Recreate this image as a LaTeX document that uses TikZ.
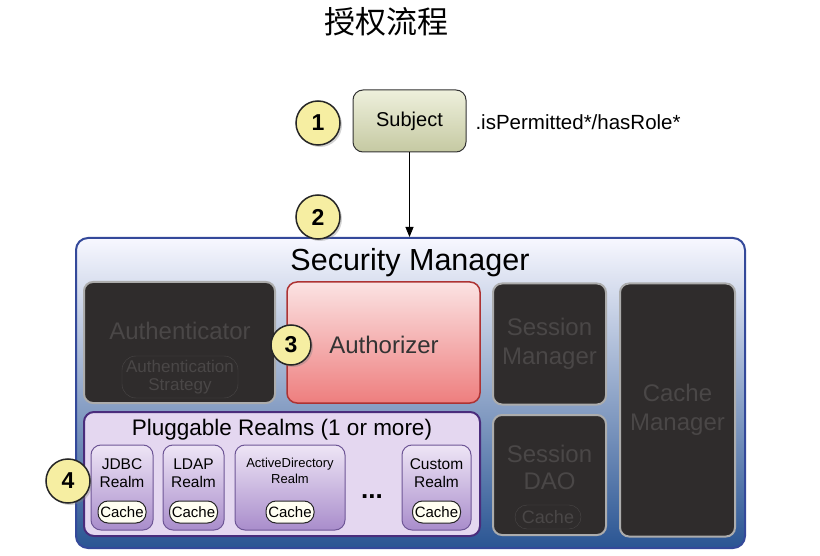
\documentclass[tikz,border=0pt]{standalone}
\usepackage{fontspec}
\setmainfont{Liberation Sans}
\newfontfamily\cjkfont{Noto Sans CJK SC}
\usepackage{xcolor}
\usetikzlibrary{shadows,arrows.meta}
\definecolor{stepfill}{HTML}{F6EEA2}
\definecolor{darkfill}{HTML}{2F2C2C}
\definecolor{darktext}{HTML}{4A4747}
\definecolor{smborder}{HTML}{34499A}
\definecolor{smbottom}{HTML}{2A5593}
\definecolor{realmborder}{HTML}{4A2C7C}
\definecolor{realmsfill}{HTML}{E4D7F0}
\definecolor{realmtop}{HTML}{EEE5F6}
\definecolor{realmbot}{HTML}{A98DCB}
\definecolor{subjtop}{HTML}{EEF0DC}
\definecolor{subjbot}{HTML}{C5C9A2}
\definecolor{authztop}{HTML}{FBE3E3}
\definecolor{authzbot}{HTML}{EE7E7E}
\tikzset{
    step-circle/.style = {circle, draw=black!85, line width=1.5pt, fill=stepfill, minimum size=44pt, inner sep=0pt, font=\fontsize{23}{23}\selectfont\bfseries, drop shadow={shadow xshift=2pt, shadow yshift=-2pt, opacity=0.35}},
    subject-box/.style = {draw=black!80, line width=1pt, rounded corners=10pt, top color=subjtop, bottom color=subjbot, minimum width=113pt, minimum height=62pt, font=\fontsize{20}{22}\selectfont},
    sm-box/.style = {draw=smborder, line width=2pt, rounded corners=12pt, top color=blue!3!white, middle color=blue!20!gray!25!white, bottom color=smbottom},
    dark-box/.style = {draw=gray!65, line width=2pt, fill=darkfill, rounded corners=9pt, text=darktext, align=center, font=\fontsize{24}{29}\selectfont},
    dark-inner/.style = {draw=darktext, thin, rounded corners=14pt, text=darktext, align=center, inner sep=1pt, font=\fontsize{17}{18}\selectfont},
    authz-box/.style = {draw=red!60!black!80, line width=1.5pt, rounded corners=10pt, top color=authztop, bottom color=authzbot, minimum width=193pt, minimum height=121pt},
    realms-box/.style = {draw=realmborder, line width=2pt, rounded corners=10pt, fill=realmsfill, minimum width=396pt, minimum height=124pt},
    realm-box/.style = {draw=realmborder!80, line width=1pt, rounded corners=10pt, top color=realmtop, bottom color=realmbot, minimum height=85pt},
    realm-label/.style = {align=center, font=\fontsize{15.5}{18}\selectfont},
    cache-pill/.style = {draw=black!85, line width=1pt, rounded corners=10pt, fill=yellow!5!white, minimum width=48pt, minimum height=22pt, inner sep=1pt, font=\fontsize{15}{15}\selectfont},
}

\begin{document}
\begin{tikzpicture}[x=1pt, y=-1pt]
\useasboundingbox (0,0) rectangle (820,556);
\node[font=\fontsize{31}{33}\selectfont] (title) at (386,22) {\cjkfont 授权流程};

% subject and call
\node[subject-box] (subject) at (409.5,121) {Subject};
\node[step-circle] (one) at (318,123) {1};
\node[anchor=west, font=\fontsize{20.5}{22}\selectfont] (call) at (472,122) {.isPermitted*/hasRole*};

% security manager
\node[sm-box, minimum width=669pt, minimum height=310pt] (sm) at (410.5,393) {};
\node[font=\fontsize{30.5}{32}\selectfont] (smtitle) at (410,263) {Security Manager};
\draw[-{Triangle[length=10pt,width=8pt]}, line width=0.8pt] (subject.south) -- (subject.south |- sm.north);
\node[step-circle] (two) at (318,217) {2};

\node[dark-box, minimum width=191pt, minimum height=121pt] (authc) at (179.5,342.5) {};
\node[text=darktext, font=\fontsize{24}{28}\selectfont] (authclabel) at (180,331) {Authenticator};
\node[dark-inner, minimum width=116pt, minimum height=42pt] (strategy) at (180,377) {Authentication\\Strategy};

\node[authz-box] (authz) at (383.5,342.5) {};
\node[font=\fontsize{24}{28}\selectfont, text=black!80] (authzlabel) at (384,345) {Authorizer};
\node[step-circle, minimum size=40pt] (three) at (291,345) {3};

\node[dark-box, minimum width=113pt, minimum height=121pt] (sessmgr) at (549.5,344) {Session\\Manager};
\node[dark-box, minimum width=113pt, minimum height=120pt] (sessdao) at (549.5,475) {};
\node[text=darktext, align=center, font=\fontsize{24}{27}\selectfont] (sessdaolabel) at (549.5,467) {Session\\DAO};
\node[dark-inner, minimum width=66pt, minimum height=24pt, rounded corners=12pt, font=\fontsize{18}{18}\selectfont] (daocache) at (548,517) {Cache};
\node[dark-box, minimum width=115pt, minimum height=253pt] (cachemgr) at (677.5,410) {Cache\\Manager};

% realms
\node[realms-box] (realms) at (282,474) {};
\node[font=\fontsize{22.5}{24}\selectfont] (realmstitle) at (282,430) {Pluggable Realms (1 or more)};

\node[realm-box, minimum width=62pt] (jdbc) at (122,487.5) {};
\node[realm-label] at (122,473) {JDBC\\Realm};
\node[cache-pill] (jdbccache) at (122,512) {Cache};

\node[realm-box, minimum width=61pt] (ldap) at (193.5,487.5) {};
\node[realm-label] at (193.5,473) {LDAP\\Realm};
\node[cache-pill] (ldapcache) at (193.5,512) {Cache};

\node[realm-box, minimum width=110pt] (ad) at (290,487.5) {};
\node[realm-label, font=\fontsize{13}{16}\selectfont] at (290,471) {ActiveDirectory\\Realm};
\node[cache-pill] (adcache) at (290,512) {Cache};

\node[font=\fontsize{26}{26}\selectfont\bfseries] (dots) at (372,497) {...};

\node[realm-box, minimum width=69pt] (custom) at (436.5,487.5) {};
\node[realm-label] at (436.5,473) {Custom\\Realm};
\node[cache-pill] (customcache) at (436.5,512) {Cache};

\node[step-circle] (four) at (68,481) {4};
\end{tikzpicture}
\end{document}
